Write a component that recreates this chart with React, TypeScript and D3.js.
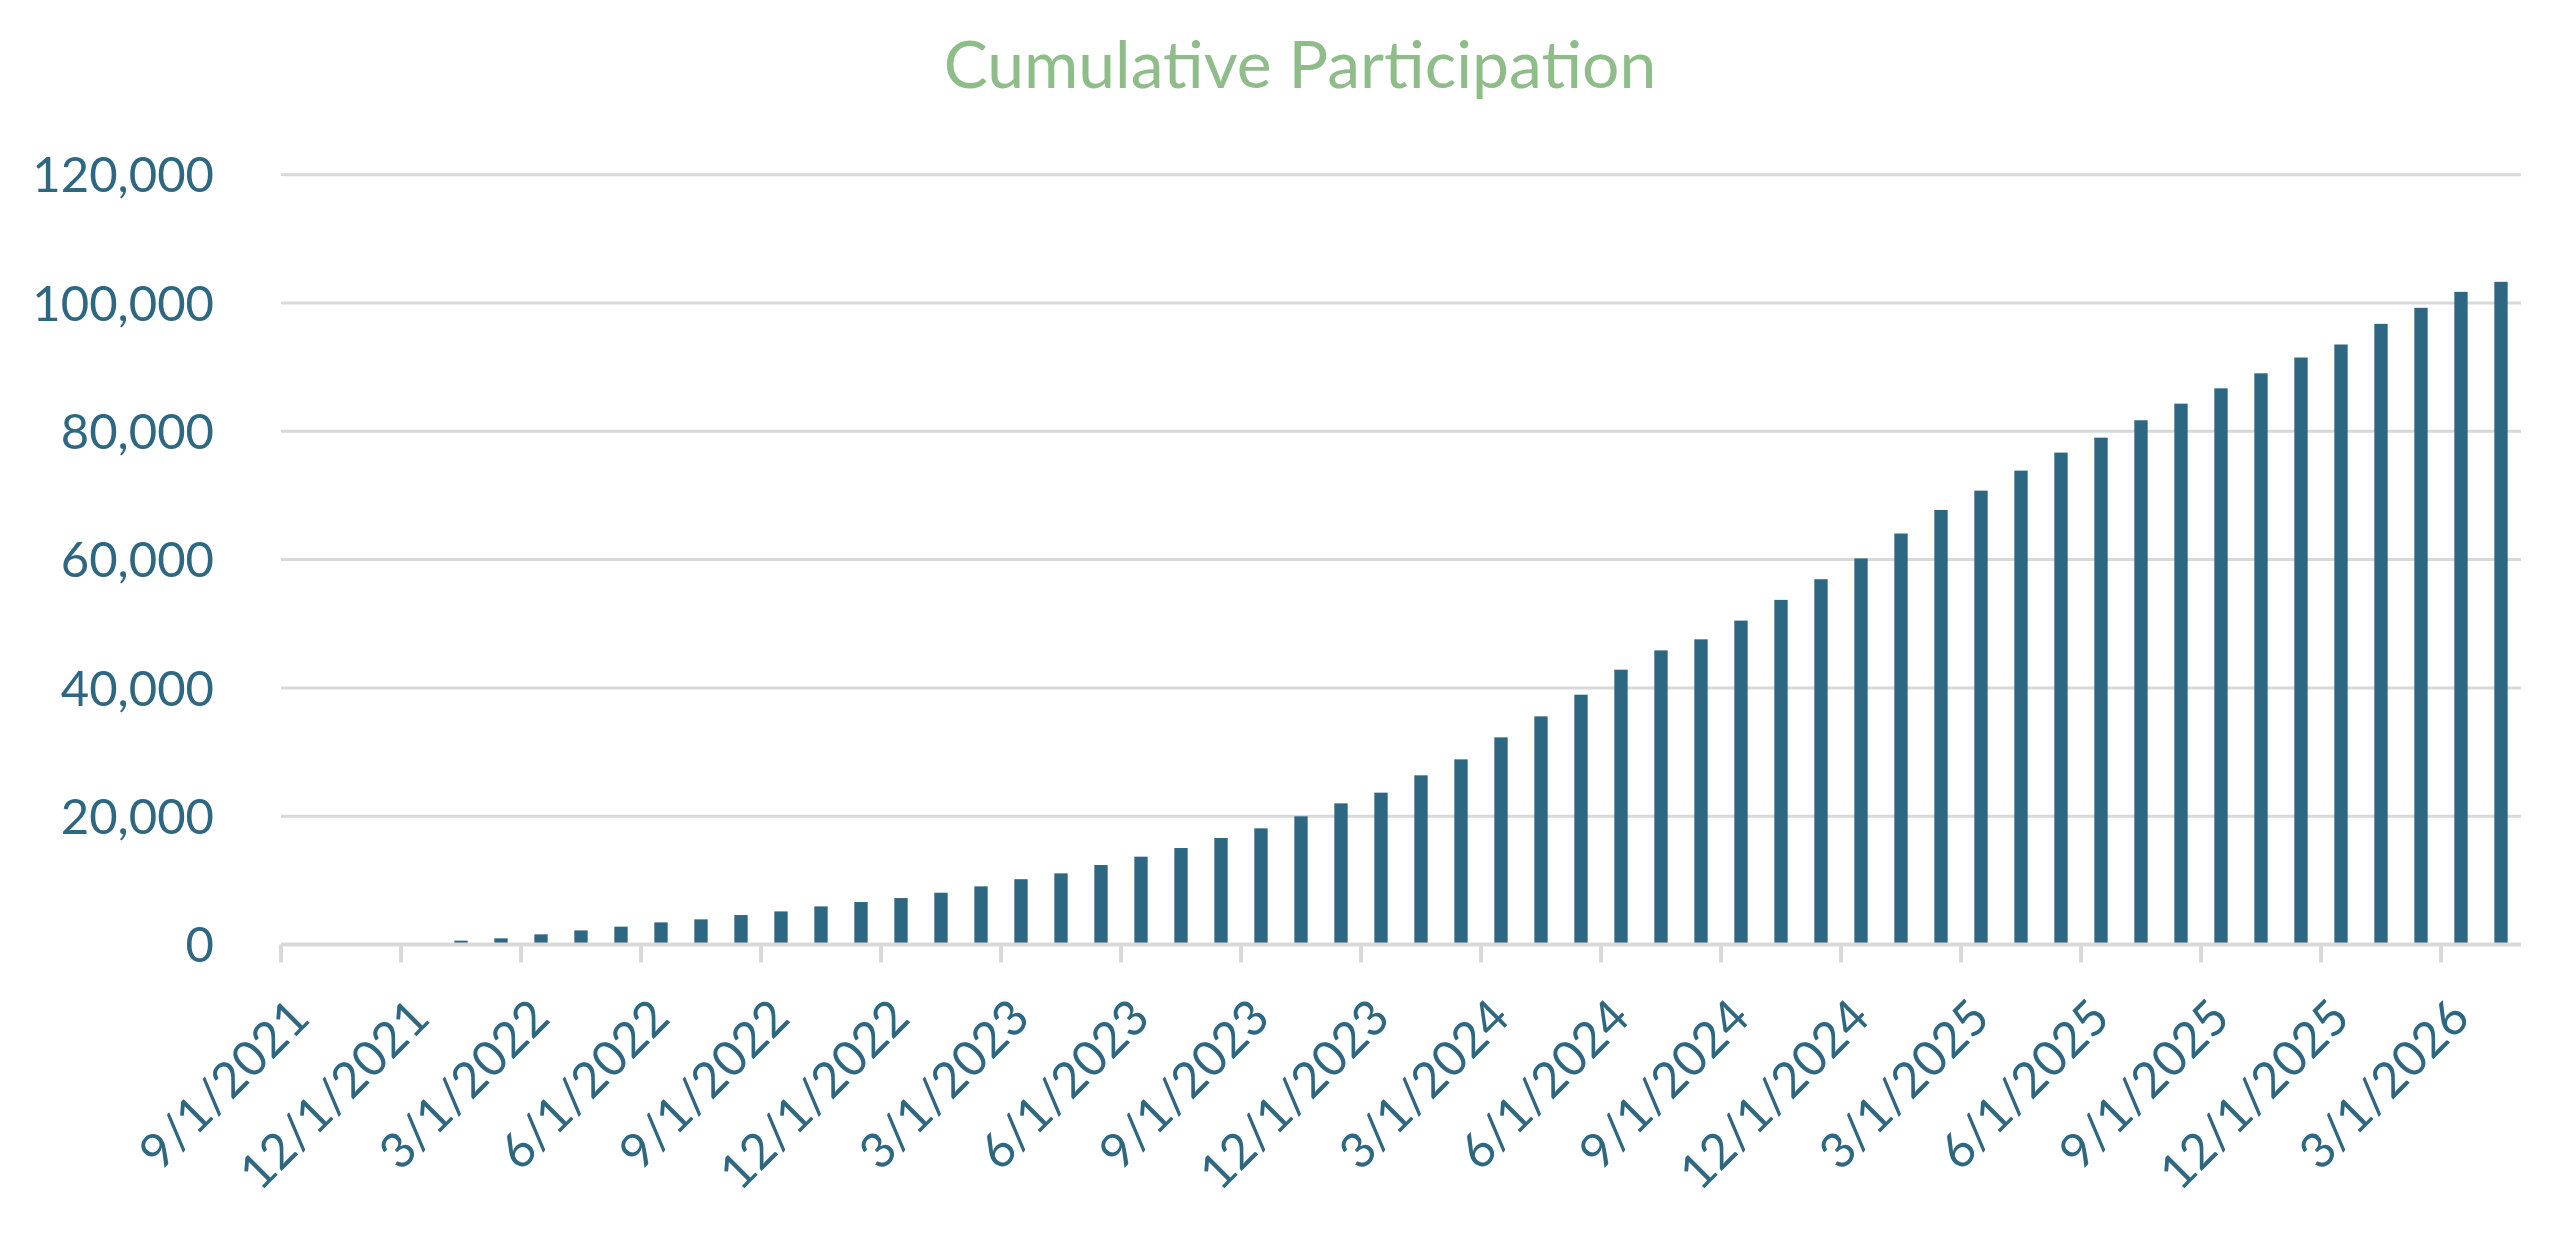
import { useEffect, useRef } from 'react'
import * as d3 from 'd3'

// monthly categories, first of each month
const months = [
  '9/1/2021', '10/1/2021', '11/1/2021', '12/1/2021',
  '1/1/2022', '2/1/2022', '3/1/2022', '4/1/2022', '5/1/2022', '6/1/2022',
  '7/1/2022', '8/1/2022', '9/1/2022', '10/1/2022', '11/1/2022', '12/1/2022',
  '1/1/2023', '2/1/2023', '3/1/2023', '4/1/2023', '5/1/2023', '6/1/2023',
  '7/1/2023', '8/1/2023', '9/1/2023', '10/1/2023', '11/1/2023', '12/1/2023',
  '1/1/2024', '2/1/2024', '3/1/2024', '4/1/2024', '5/1/2024', '6/1/2024',
  '7/1/2024', '8/1/2024', '9/1/2024', '10/1/2024', '11/1/2024', '12/1/2024',
  '1/1/2025', '2/1/2025', '3/1/2025', '4/1/2025', '5/1/2025', '6/1/2025',
  '7/1/2025', '8/1/2025', '9/1/2025', '10/1/2025', '11/1/2025', '12/1/2025',
  '1/1/2026', '2/1/2026', '3/1/2026', '4/1/2026'
]

const participation = [
  0, 0, 0, 0,
  600, 960, 1580, 2200, 2780, 3450,
  3920, 4590, 5160, 5940, 6620, 7240,
  8070, 9060, 10180, 11090, 12390, 13690,
  15040, 16600, 18110, 19980, 22000, 23670,
  26370, 28860, 32290, 35560, 38940, 42840,
  45850, 47570, 50490, 53720, 56940, 60180,
  64070, 67740, 70750, 73870, 76680, 79010,
  81720, 84310, 86700, 89040, 91500, 93530,
  96750, 99250, 101740, 103300
]

// only every third month gets a label and tick
const labelledMonths = months.filter((_, i) => i % 3 === 0)

const yTicks = [0, 20000, 40000, 60000, 80000, 100000, 120000]

const W = 2560
const H = 1236
const margin = { top: 174.7, right: 39, bottom: 291.5, left: 281 }
const barColor = '#2d6781'
const textColor = '#2e6781'
const gridColor = '#d9d9d9'
const font = 'Lato, "Open Sans", sans-serif'

export default function App() {
  const svgRef = useRef<SVGSVGElement>(null)

  useEffect(() => {
    if (!svgRef.current) return
    const svg = d3.select(svgRef.current)
    svg.selectAll('*').remove()

    const x = d3.scaleBand<string>()
      .domain(months)
      .range([margin.left, W - margin.right])
      .paddingInner(2 / 3)
      .paddingOuter(1 / 3)

    const y = d3.scaleLinear()
      .domain([0, 120000])
      .range([H - margin.bottom, margin.top])

    svg.append('rect')
      .attr('width', W)
      .attr('height', H)
      .attr('fill', '#ffffff')

    // title
    svg.append('text')
      .attr('x', 1300)
      .attr('y', 88)
      .attr('text-anchor', 'middle')
      .attr('font-family', font)
      .attr('font-size', 66)
      .attr('fill', '#8fbd8a')
      .text('Cumulative Participation')

    // gridlines
    svg.append('g')
      .selectAll('line')
      .data(yTicks.filter(d => d > 0))
      .enter()
      .append('line')
      .attr('x1', margin.left)
      .attr('x2', W - margin.right)
      .attr('y1', d => y(d))
      .attr('y2', d => y(d))
      .attr('stroke', gridColor)
      .attr('stroke-width', 3)

    // y labels
    svg.append('g')
      .selectAll('text')
      .data(yTicks)
      .enter()
      .append('text')
      .attr('x', 214)
      .attr('y', d => y(d))
      .attr('dy', '0.36em')
      .attr('text-anchor', 'end')
      .attr('font-family', font)
      .attr('font-size', 49)
      .attr('fill', textColor)
      .text(d => d3.format(',')(d))

    // bars
    svg.append('g')
      .selectAll('rect')
      .data(participation)
      .enter()
      .append('rect')
      .attr('x', (_, i) => x(months[i]) || 0)
      .attr('y', d => y(d))
      .attr('width', x.bandwidth())
      .attr('height', d => y(0) - y(d))
      .attr('fill', barColor)

    // x axis line
    svg.append('line')
      .attr('x1', margin.left)
      .attr('x2', W - margin.right)
      .attr('y1', y(0))
      .attr('y2', y(0))
      .attr('stroke', gridColor)
      .attr('stroke-width', 4)

    const gap = (x.step() - x.bandwidth()) / 2

    // tick marks at the left edge of each labelled month
    svg.append('g')
      .selectAll('line')
      .data(labelledMonths)
      .enter()
      .append('line')
      .attr('x1', d => (x(d) || 0) - gap)
      .attr('x2', d => (x(d) || 0) - gap)
      .attr('y1', y(0))
      .attr('y2', y(0) + 18)
      .attr('stroke', gridColor)
      .attr('stroke-width', 4)

    // rotated date labels
    svg.append('g')
      .selectAll('text')
      .data(labelledMonths)
      .enter()
      .append('text')
      .attr('transform', d => {
        const cx = (x(d) || 0) + x.bandwidth() / 2 + 11
        return `translate(${cx},${y(0) + 76}) rotate(-45)`
      })
      .attr('text-anchor', 'end')
      .attr('font-family', font)
      .attr('font-size', 49)
      .attr('fill', textColor)
      .text(d => d)
  }, [])

  return (
    <svg
      ref={svgRef}
      width={W}
      height={H}
      style={{ position: 'absolute', left: 0, top: 0, display: 'block' }}
    />
  )
}
